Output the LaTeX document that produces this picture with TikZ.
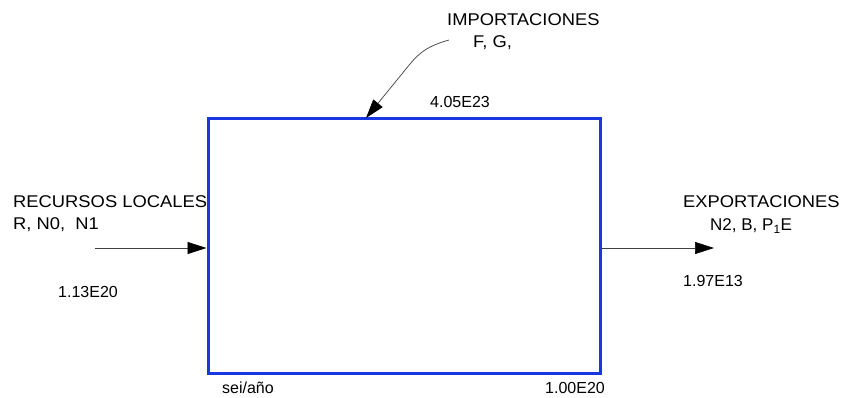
\documentclass[tikz,border=0pt]{standalone}
\usepackage{fontspec}
\setmainfont{Liberation Sans}
\newfontfamily\ancha[FakeStretch=1.08]{Liberation Sans}
\usetikzlibrary{arrows.meta,positioning}
\definecolor{azulsis}{RGB}{25,55,225}

\tikzset{
  flujo/.style={draw=black!75,line width=0.7pt,-{Triangle[length=19pt,width=12pt,color=black]}},
  etiqueta/.style={inner sep=0pt,anchor=west,font=\fontsize{16}{19}\selectfont},
  titulo/.style={etiqueta,font=\fontsize{17}{20}\ancha}
}

\begin{document}
\begin{tikzpicture}[x=1pt,y=-1pt]
  \useasboundingbox (0,0) rectangle (842,398);
  % sistema
  \node[draw=azulsis,line width=3pt,minimum width=392pt,minimum height=254pt,inner sep=0pt] (sistema) at (404,246) {};

  % importaciones
  \node[titulo] (imp) at (447,20) {IMPORTACIONES};
  \node[titulo] (impfg) at (473,43) {F, G,};
  \node[etiqueta] (impval) at (430,102) {4.05E23};
  \coordinate (impini) at (449,40);
  \coordinate (impfin) at (366,118);
  \draw[flujo] (impini) .. controls (428,46) and (420,52) .. (410,64) -- (impfin);

  % recursos locales
  \node[titulo] (rec) at (13,202) {RECURSOS LOCALES};
  \node[titulo] (recrn) at (13,225) {R, N0,\ \ N1};
  \node[etiqueta] (recval) at (58,292) {1.13E20};
  \coordinate (recini) at (95,248);
  \draw[flujo] (recini) -- (sistema.west |- recini);

  % exportaciones
  \node[titulo] (exp) at (683,202) {EXPORTACIONES};
  \node[etiqueta] (expnb) at (710,226) {\fontsize{17}{20}\selectfont N2, B, P\textsubscript{1}E};
  \node[etiqueta] (expval) at (683,281) {1.97E13};
  \coordinate (expfin) at (714,248);
  \draw[flujo] (sistema.east |- expfin) -- (expfin);

  % unidades
  \node[etiqueta] (unid) at (222,388) {sei/año};
  \node[etiqueta] (totval) at (545,388) {1.00E20};
\end{tikzpicture}
\end{document}
